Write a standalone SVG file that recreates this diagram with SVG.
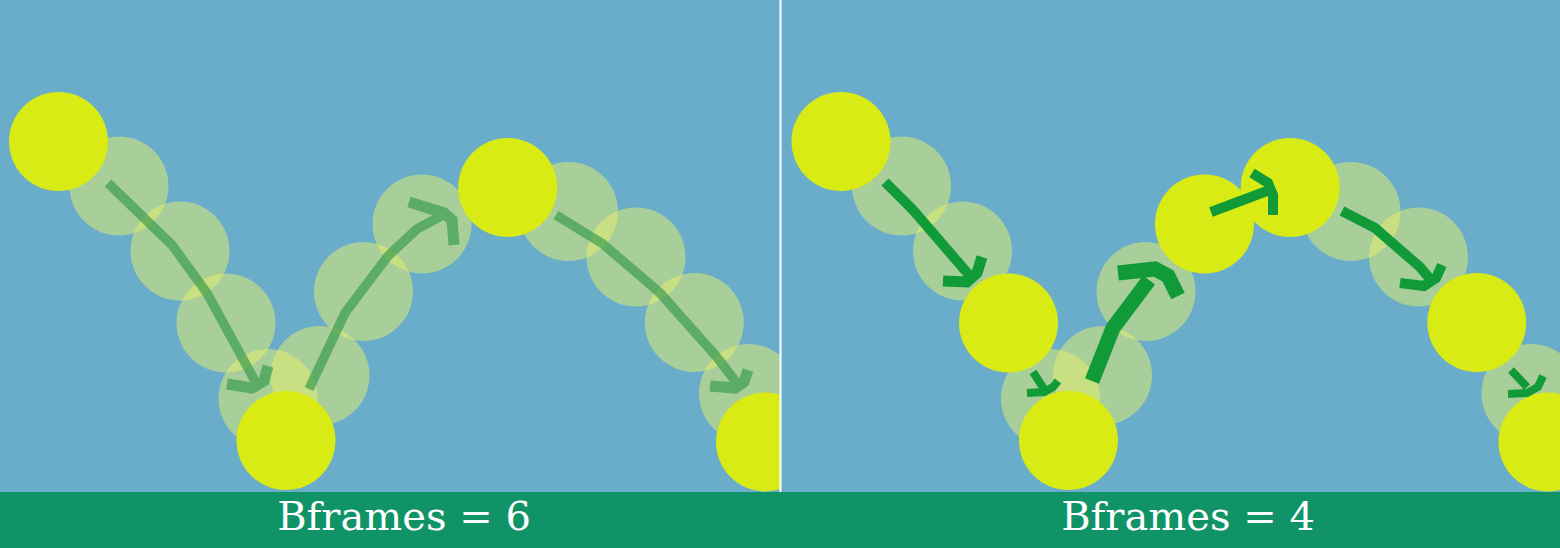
<svg xmlns="http://www.w3.org/2000/svg" width="1560" height="548" viewBox="0 0 1560 548">
<style>
.bg{fill:#69ADCB}
.bar{fill:#119368}
.ghost{fill:#E8F06A;fill-opacity:0.5}
.ball{fill:#DAEC10;fill-opacity:0.98}
.arrL{fill:none;stroke:#2A9444;stroke-width:9.5;stroke-linejoin:miter;stroke-linecap:butt}
.headL{stroke-width:11}
.arrR{fill:none;stroke:#109A38;stroke-linejoin:miter;stroke-linecap:butt}
.lbl{font-family:"DejaVu Serif","Liberation Serif",serif;font-size:40px;fill:#FFFFFF;text-anchor:middle}
</style>
<defs>
<clipPath id="clipL"><rect x="0" y="0" width="780" height="492"/></clipPath>
<clipPath id="clipR"><rect x="781" y="0" width="779" height="492"/></clipPath>
</defs>
<rect class="bg" x="0" y="0" width="1560" height="548"/>

<g id="panel-left" clip-path="url(#clipL)">
  <g id="L-ghosts">
    <circle id="L-g1" class="ghost" cx="119" cy="186" r="49.5"/>
    <circle id="L-g2" class="ghost" cx="180" cy="251" r="49.5"/>
    <circle id="L-g3" class="ghost" cx="226" cy="323" r="49.5"/>
    <circle id="L-g4" class="ghost" cx="268" cy="398.5" r="49.5"/>
    <circle id="L-g5" class="ghost" cx="320" cy="375.5" r="49.5"/>
    <circle id="L-g6" class="ghost" cx="363.5" cy="291.5" r="49.5"/>
    <circle id="L-g7" class="ghost" cx="422" cy="224" r="49.5"/>
    <circle id="L-g8" class="ghost" cx="568.5" cy="211.5" r="49.5"/>
    <circle id="L-g9" class="ghost" cx="636" cy="257" r="49.5"/>
    <circle id="L-g10" class="ghost" cx="694.3" cy="322.5" r="49.5"/>
    <circle id="L-g11" class="ghost" cx="748.5" cy="393.5" r="49.5"/>
  </g>
  <g id="L-connectors" opacity="0.6">
    <path class="arrL" d="M108,183 L172,245 L207,293 L255,381"/>
    <path class="arrL headL" d="M227,384 L252,388 L264,381 L268,366"/>
    <path class="arrL" d="M309,389 L345,313 L388,256 L417,229 L441,216"/>
    <path class="arrL headL" d="M409,202 L444,213 L452,220 L454,245"/>
    <path class="arrL" d="M556,215 L603,244 L660,293 L716,356 L736,382"/>
    <path class="arrL headL" d="M710,386 L735,388 L744,382 L748,370"/>
  </g>
  <g id="L-balls">
    <circle id="L-b1" class="ball" cx="58.5" cy="141.5" r="49.5"/>
    <circle id="L-b2" class="ball" cx="286" cy="440.5" r="49.5"/>
    <circle id="L-b3" class="ball" cx="507.7" cy="187.5" r="49.5"/>
    <circle id="L-b4" class="ball" cx="765.5" cy="442" r="49.5"/>
  </g>
</g>

<g id="panel-right" clip-path="url(#clipR)">
  <g id="R-ghosts">
    <circle id="R-g1" class="ghost" cx="901.5" cy="186" r="49.5"/>
    <circle id="R-g2" class="ghost" cx="962.5" cy="251" r="49.5"/>
    <circle id="R-g3" class="ghost" cx="1050.5" cy="398.5" r="49.5"/>
    <circle id="R-g4" class="ghost" cx="1102.5" cy="375.5" r="49.5"/>
    <circle id="R-g5" class="ghost" cx="1146" cy="291.5" r="49.5"/>
    <circle id="R-g6" class="ghost" cx="1351" cy="211.5" r="49.5"/>
    <circle id="R-g7" class="ghost" cx="1418.5" cy="257" r="49.5"/>
    <circle id="R-g8" class="ghost" cx="1531" cy="393.5" r="49.5"/>
  </g>
  <g id="R-balls">
    <circle id="R-b1" class="ball" cx="841" cy="141.5" r="49.5"/>
    <circle id="R-b2" class="ball" cx="1008.5" cy="323" r="49.5"/>
    <circle id="R-b3" class="ball" cx="1068.5" cy="440.5" r="49.5"/>
    <circle id="R-b4" class="ball" cx="1204.5" cy="224" r="49.5"/>
    <circle id="R-b5" class="ball" cx="1290.2" cy="187.5" r="49.5"/>
    <circle id="R-b6" class="ball" cx="1476.8" cy="322.5" r="49.5"/>
    <circle id="R-b7" class="ball" cx="1548" cy="442" r="49.5"/>
  </g>
  <g id="R-connectors">
    <path class="arrR" stroke-width="10" d="M885,182 L913,210 L970,276"/>
    <path class="arrR" stroke-width="11" d="M943,281 L967,282 L977,273 L982,257"/>
    <path class="arrR" stroke-width="8" d="M1033,372 L1044,389"/>
    <path class="arrR" stroke-width="8" d="M1027,393 L1044,392 L1053,387 L1058,381"/>
    <path class="arrR" stroke-width="15" d="M1092,381 L1113,328 L1149,280"/>
    <path class="arrR" stroke-width="15" d="M1118,273 L1155,269 L1168,276 L1178,296"/>
    <path class="arrR" stroke-width="10" d="M1211,212 L1267,191"/>
    <path class="arrR" stroke-width="10" d="M1252,173 L1268,183 L1273,195 L1273,215"/>
    <path class="arrR" stroke-width="10" d="M1342,211 L1375,228 L1420,267 L1430,279"/>
    <path class="arrR" stroke-width="10" d="M1400,283 L1424,286 L1436,278 L1442,265"/>
    <path class="arrR" stroke-width="8" d="M1511,370 L1527,387"/>
    <path class="arrR" stroke-width="8" d="M1508,394 L1527,393 L1538,387 L1543,376"/>
  </g>
</g>

<rect id="divider" x="779.5" y="0" width="2" height="492" fill="#FFFFFF"/>

<g id="footer">
  <rect class="bar" x="0" y="492" width="1560" height="56"/>
  <text class="lbl" x="404" y="530">Bframes = 6</text>
  <text class="lbl" x="1188" y="530">Bframes = 4</text>
</g>
</svg>
